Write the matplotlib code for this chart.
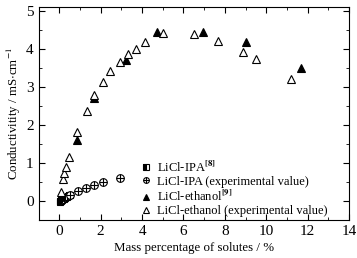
import numpy as np
import matplotlib.pyplot as plt
from matplotlib.ticker import MultipleLocator

plt.rcParams['font.family'] = ['Liberation Serif', 'DejaVu Serif']
plt.rcParams['mathtext.fontset'] = 'stix'

# LiCl-IPA [8] (literature)
ipa_lit_x = [0.02, 0.04, 0.06, 0.09, 0.12, 0.15, 0.18, 0.22, 0.26, 0.30, 0.35, 0.40, 0.46, 0.52]
ipa_lit_y = [-0.03, 0.0, 0.03, 0.01, 0.05, 0.03, 0.07, 0.06, 0.09, 0.10, 0.12, 0.13, 0.15, 0.17]

# LiCl-IPA experimental
ipa_exp_x = [0.52, 0.92, 1.30, 1.69, 2.11, 2.95]
ipa_exp_y = [0.15, 0.26, 0.35, 0.43, 0.49, 0.60]

# LiCl-ethanol [9] (literature)
eth_lit_x = [0.87, 1.68, 3.24, 4.72, 6.93, 9.02, 11.66]
eth_lit_y = [1.61, 2.72, 3.70, 4.44, 4.46, 4.19, 3.50]

# LiCl-ethanol experimental
eth_exp_x = [0.07, 0.16, 0.24, 0.31, 0.45, 0.87, 1.32, 1.68, 2.11, 2.46, 2.92, 3.30,
             3.71, 4.12, 5.00, 6.50, 7.67, 8.89, 9.50, 11.20]
eth_exp_y = [0.25, 0.58, 0.74, 0.89, 1.15, 1.82, 2.37, 2.80, 3.13, 3.41, 3.67, 3.87,
             4.01, 4.18, 4.43, 4.39, 4.22, 3.91, 3.74, 3.22]

fig = plt.figure(figsize=(3.57, 2.58), dpi=100)
ax = fig.add_axes([0.108, 0.147, 0.87, 0.825])

h1, = ax.plot(ipa_lit_x, ipa_lit_y, 's', ms=5, mfc='black', mec='black',
              fillstyle='left', markerfacecoloralt='white', mew=0.8, ls='none')
h2a, = ax.plot(ipa_exp_x, ipa_exp_y, 'o', ms=5.5, mfc='white', mec='black', mew=0.8, ls='none')
h2b, = ax.plot(ipa_exp_x, ipa_exp_y, '+', ms=5.5, color='black', mew=0.8, ls='none')
h3, = ax.plot(eth_lit_x, eth_lit_y, '^', ms=6, mfc='black', mec='black', mew=0.8, ls='none')
h4, = ax.plot(eth_exp_x, eth_exp_y, '^', ms=6, mfc='white', mec='black', mew=0.8, ls='none')

ax.set_xlim(-1, 14)
ax.set_ylim(-0.5, 5.1)
ax.xaxis.set_major_locator(MultipleLocator(2))
ax.xaxis.set_minor_locator(MultipleLocator(1))
ax.yaxis.set_major_locator(MultipleLocator(1))
ax.yaxis.set_minor_locator(MultipleLocator(0.5))
ax.tick_params(which='both', direction='in', top=True, right=True, labelsize=11)
ax.tick_params(which='major', length=4)
ax.tick_params(which='minor', length=2)

ax.set_xlabel('Mass percentage of solutes / %', fontsize=9.3, labelpad=3)
ax.set_ylabel(r'Conductivitity / mS$\cdot$cm$^{-1}$', fontsize=9.3, labelpad=2)

ax.legend([h1, (h2a, h2b), h3, h4],
          [r'LiCl-IPA$^{\mathbf{[8]}}$', 'LiCl-IPA (experimental value)',
           r'LiCl-ethanol$^{\mathbf{[9]}}$', 'LiCl-ethanol (experimental value)'],
          loc='upper left', bbox_to_anchor=(0.33, 0.285), frameon=False, fontsize=9,
          handlelength=0.8, handletextpad=0.5, labelspacing=0.1, borderaxespad=0,
          borderpad=0, markerscale=0.75)

fig.savefig('out.png', dpi=100)
